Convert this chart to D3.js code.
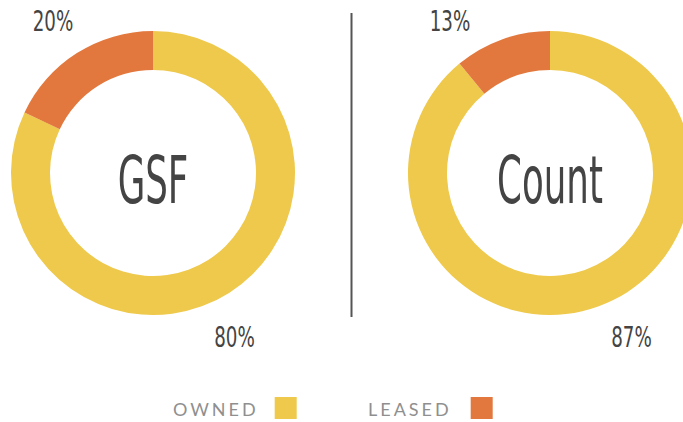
<!DOCTYPE html>
<html>
<head>
<meta charset="utf-8">
<script src="https://cdn.jsdelivr.net/npm/d3@7"></script>
<style>
  body { margin: 0; background: #fff; }
  svg { display: block; }
  .pct, .center-label { font-family: "DejaVu Sans Condensed", "DejaVu Sans", sans-serif; font-stretch: condensed; fill: #444; }
  .legend-text { font-family: "Lato", "Noto Sans", sans-serif; fill: #8f8f8f; letter-spacing: 3px; }
</style>
</head>
<body>
<svg id="chart" width="683" height="422"></svg>
<script>
// chart data
var charts = ["GSF", "Count"];
var categories = ["Owned", "Leased"];
// slice sizes as drawn (owned, leased)
var gsfValues = [82, 18];
var countValues = [89, 11];
// percentage labels as printed (owned, leased)
var gsfLabels = ["80%", "20%"];
var countLabels = ["87%", "13%"];
var legendLabels = ["OWNED", "LEASED"];

var svg = d3.select("#chart");

var color = d3.scaleOrdinal()
    .domain(categories)
    .range(["#EEC94B", "#E2783D"]);

var outerR = 142, innerR = 103;

var pie = d3.pie()
    .sort(null)
    .value(function(d){ return d.value; });

var arc = d3.arc()
    .innerRadius(innerR)
    .outerRadius(outerR);

// donut centres
var centers = d3.scalePoint()
    .domain(charts)
    .range([153, 550]);

var allValues = [gsfValues, countValues];
var allLabels = [gsfLabels, countLabels];

// squeeze text horizontally around a point (narrow display face look)
function squeeze(sel, x, y, sx){
    sel.attr("x", 0).attr("y", 0)
        .attr("transform", "translate(" + x + "," + y + ") scale(" + sx + ",1)");
}

charts.forEach(function(name, i){
    var rows = categories.map(function(c, j){ return {key: c, value: allValues[i][j]}; });
    var g = svg.append("g")
        .attr("transform", "translate(" + centers(name) + ",173)");

    g.selectAll("path")
        .data(pie(rows))
        .join("path")
        .attr("d", arc)
        .attr("fill", function(d){ return color(d.data.key); });

    // centre title
    g.append("text")
        .attr("class", "center-label")
        .attr("text-anchor", "middle")
        .attr("font-size", 66)
        .text(name)
        .call(squeeze, 0, 30, 0.6);

    // leased % (top-left) and owned % (bottom-right)
    g.append("text")
        .attr("class", "pct")
        .attr("text-anchor", "middle")
        .attr("font-size", 29)
        .text(allLabels[i][1])
        .call(squeeze, -100, -142, 0.7);

    g.append("text")
        .attr("class", "pct")
        .attr("text-anchor", "middle")
        .attr("font-size", 29)
        .text(allLabels[i][0])
        .call(squeeze, 81.5, 174, 0.7);
});

// divider
svg.append("line")
    .attr("x1", 351.5).attr("x2", 351.5)
    .attr("y1", 13).attr("y2", 317)
    .attr("stroke", "#555")
    .attr("stroke-width", 2);

// legend
var legendX = d3.scalePoint()
    .domain(legendLabels)
    .range([173, 368]);

var leg = svg.selectAll(".legend")
    .data(legendLabels)
    .join("g")
    .attr("class", "legend")
    .attr("transform", function(d){ return "translate(" + legendX(d) + ",416)"; });

leg.append("text")
    .attr("class", "legend-text")
    .attr("font-size", 18)
    .text(function(d){ return d; });

leg.each(function(d, i){
    var g = d3.select(this);
    var w = g.select("text").node().getComputedTextLength();
    g.append("rect")
        .attr("x", i === 0 ? w + 16 : w + 19)
        .attr("y", -19)
        .attr("width", 22)
        .attr("height", 22)
        .attr("fill", color(categories[i]));
});
</script>
</body>
</html>
